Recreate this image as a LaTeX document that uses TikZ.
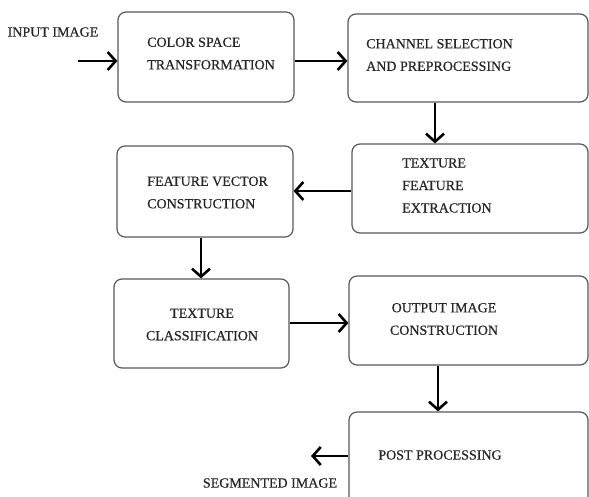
\documentclass[tikz,border=0pt]{standalone}
\usepackage{fontspec}
\setmainfont{Liberation Serif}
\newfontfamily\lblfont{Liberation Serif}[FakeBold=0.5]
\usetikzlibrary{arrows.meta}
\begin{document}
\begin{tikzpicture}[x=1pt,y=-1pt,
  box/.style={draw=black!65,line width=1.2pt,rounded corners=8pt,rectangle,inner sep=0pt},
  txt/.style={inner sep=0pt,text=black!85,font=\lblfont\fontsize{14}{22.5}\selectfont},
  arr/.style={draw=black,line width=2.8pt,-{Straight Barb[length=8pt,width=18pt,line width=2.6pt]}}]
\useasboundingbox (0,0) rectangle (589,497);
\clip (0,0) rectangle (589,497);
\fill[white] (0,0) rectangle (589,497);
% boxes
\node[box,minimum width=176pt,minimum height=90pt] (b1) at (206,57) {};
\node[box,minimum width=240pt,minimum height=88pt] (b2) at (468,58) {};
\node[box,minimum width=236pt,minimum height=89pt] (b3) at (470,188.5) {};
\node[box,minimum width=176pt,minimum height=91pt] (b4) at (205,191.5) {};
\node[box,minimum width=175pt,minimum height=89pt] (b5) at (201.5,323.5) {};
\node[box,minimum width=239pt,minimum height=89pt] (b6) at (468.5,320.5) {};
\node[box,minimum width=239pt,minimum height=108pt] (b7) at (468.5,466) {};
% texts
\node[txt,anchor=west,align=left] (t1) at (147,53.5) {COLOR SPACE\\TRANSFORMATION};
\node[txt,anchor=west,align=left] (t2) at (366,55) {CHANNEL SELECTION\\AND PREPROCESSING};
\node[txt,anchor=west,align=left] (t3) at (402,185.5) {TEXTURE\\FEATURE\\EXTRACTION};
\node[txt,anchor=west,align=left] (t4) at (147,192.5) {FEATURE VECTOR\\CONSTRUCTION};
\node[txt,align=center] (t5) at (202,324.5) {TEXTURE\\CLASSIFICATION};
\node[txt,align=center] (t6) at (444,319) {OUTPUT IMAGE\\CONSTRUCTION};
\node[txt] (t7) at (440,455) {POST PROCESSING};
\node[txt] (tin) at (53,32) {INPUT IMAGE};
\node[txt] (tout) at (270,483) {SEGMENTED IMAGE};
% connectors
\coordinate (in) at (78,61);
\coordinate (out) at (311,456);
\draw[arr] (in) -- (in -| b1.west);
\draw[arr] (b1.east |- 0,61) -- (b2.west |- 0,61);
\draw[arr,line width=2.2pt] (b2.south -| 435,0) -- (b3.north -| 435,0);
\draw[arr] (b3.west |- 0,191) -- (b4.east |- 0,191);
\draw[arr,line width=2.2pt] (b4.south -| 201,0) -- (b5.north -| 201,0);
\draw[arr] (b5.east |- 0,323) -- (b6.west |- 0,323);
\draw[arr,line width=2.2pt] (b6.south -| 438,0) -- (b7.north -| 438,0);
\draw[arr] (b7.west |- out) -- (out);
\end{tikzpicture}
\end{document}
